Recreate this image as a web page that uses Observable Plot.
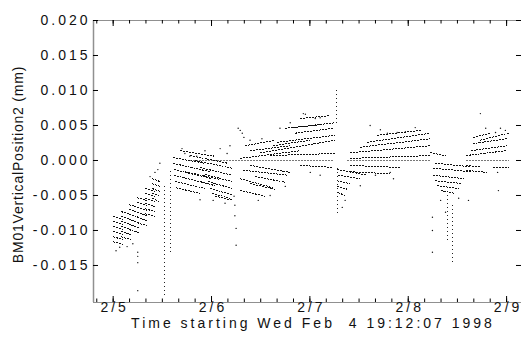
<!DOCTYPE html>
<html><head><meta charset="utf-8">
<script src="https://cdn.jsdelivr.net/npm/d3@7"></script>
<script src="https://cdn.jsdelivr.net/npm/@observablehq/plot@0.6"></script>
<style>body{margin:0;background:#fff} svg{display:block}</style>
</head><body><div id="chart"></div>
<script>
// ---- axis / labels ----
const startTime = Date.UTC(1998, 1, 4, 19, 12, 7);
const endTime = Date.UTC(1998, 1, 9, 3, 38, 0);
const origin = Date.UTC(1998, 1, 5);            // hours below are counted from 2/5 00:00
const yDomain = [-0.02029, 0.020];
const yTickValues = [-0.015, -0.010, -0.005, 0.000, 0.005, 0.010, 0.015, 0.020];
const yTickLabels = ["-0.015", "-0.010", "-0.005", "0.000", "0.005", "0.010", "0.015", "0.020"];
const dayTickDates = ["1998-02-05", "1998-02-06", "1998-02-07", "1998-02-08", "1998-02-09"];
const dayTickLabels = ["2/5", "2/6", "2/7", "2/8", "2/9"];
const yLabel = "BM01VerticalPosition2 (mm)";
const xTitle = "Time starting Wed Feb  4 19:12:07 1998";

// ---- data: runs of samples [hour, µm, hour, µm] ----
const runsFeb5 = [
  [0.0,-8.0,2.4,-8.4],[0.0,-8.7,2.4,-9.1],[0.0,-9.4,2.4,-9.9],[0.0,-10.1,2.4,-10.6],[0.0,-10.9,2.4,-11.3],[0.0,-11.6,2.4,-12.0],
  [1.9,-7.3,4.3,-7.7],[1.9,-8.0,4.3,-8.4],[1.9,-8.7,4.3,-9.1],[1.9,-9.4,4.3,-9.9],[1.9,-10.1,4.3,-10.6],[1.9,-10.9,4.3,-11.3],
  [3.8,-6.3,6.3,-6.7],[3.8,-7.0,6.3,-7.4],[3.8,-7.7,6.3,-8.1],[3.8,-8.4,6.3,-8.9],[3.8,-9.1,6.3,-9.6],[3.8,-9.9,6.3,-10.3],
  [5.8,-5.3,8.2,-5.7],[5.8,-6.0,8.2,-6.4],[5.8,-6.7,8.2,-7.1],[5.8,-7.4,8.2,-7.9],[5.8,-8.1,8.2,-8.6],[5.8,-8.9,8.2,-9.3],
  [7.8,-4.0,10.2,-4.4],[7.8,-4.7,10.2,-5.1],[7.8,-5.4,10.2,-5.9],[7.8,-6.1,10.2,-6.6],[7.8,-6.9,10.2,-7.3],[7.8,-7.6,10.2,-8.0],
  [9.5,-2.6,11.4,-3.0],[9.5,-3.3,11.4,-3.7],[9.5,-4.0,11.4,-4.4],[9.5,-4.7,11.4,-5.1],[9.5,-5.4,11.4,-5.9]
];
const runsFeb5Late = [
  [14.6,0.4,22.4,-0.4],[14.6,-0.4,23.6,-1.6],[14.8,-1.3,24.1,-2.6],[14.8,-2.1,23.1,-3.3],[15.1,-3.0,22.4,-4.0],
  [15.3,-3.9,21.2,-4.7],[18.7,0.7,28.0,-0.4],[20.0,0.0,29.0,-1.1],[21.2,-1.0,29.0,-2.1],[22.4,-2.0,29.0,-3.0],
  [23.1,-3.0,29.0,-4.0],[23.6,-4.0,29.0,-4.9],[24.1,-4.7,28.5,-5.4],[16.3,1.4,24.9,0.6],[17.5,-1.6,26.1,-2.7],
  [16.8,-2.4,24.9,-3.6],[24.9,-5.1,29.3,-5.7]
];
const runsFeb6 = [
  [35.9,1.1,54.2,2.9],[40.0,2.6,54.2,3.6],[44.4,3.9,53.7,4.6],[43.9,4.7,54.2,5.4],[31.0,0.3,45.6,1.4],
  [39.0,2.1,48.1,2.9],[33.4,1.4,43.2,2.1],[38.3,0.7,54.2,1.0],[45.6,6.0,53.0,6.4],[31.7,-1.4,42.5,-2.1],
  [33.4,-0.7,43.2,-1.7],[34.6,-2.3,42.0,-3.1],[31.0,-2.6,39.0,-3.9],[33.4,-3.3,39.5,-4.1],[31.0,-4.3,37.1,-5.1],
  [32.2,2.1,39.5,2.9],[45.6,-0.7,53.7,-1.0],[42.0,4.6,50.5,5.1]
];
const runsFeb7 = [
  [54.7,-1.3,62.0,-2.1],[54.9,-2.1,60.3,-2.6],[54.7,-2.9,57.8,-3.3],[54.7,-3.7,57.1,-4.1],[54.9,-4.6,56.6,-5.0],
  [57.8,0.3,77.4,0.7],[57.8,1.1,77.4,2.1],[60.3,1.9,77.4,3.1],[62.0,2.6,77.4,3.9],[64.4,3.6,75.0,4.3],
  [57.8,-0.7,70.1,-1.0],[57.8,-1.6,67.6,-1.9]
];
const runsFeb8 = [
  [77.4,1.1,81.1,0.7],[78.6,-0.4,87.2,-0.9],[78.1,-1.1,87.2,-1.6],[78.1,-2.1,85.5,-2.6],[78.6,-2.9,85.2,-3.3],
  [79.1,-3.6,84.3,-4.0],[79.9,-4.3,83.5,-4.7],
  [86.0,0.7,96.0,1.4],[87.2,1.4,96.0,2.1],[87.7,2.4,96.0,3.1],[87.9,3.3,92.1,3.9],[86.0,-0.7,89.6,-0.9],
  [86.0,-1.4,91.3,-1.7],[92.8,-1.0,96.5,-1.0],[89.6,2.9,96.5,3.9]
];
const zeroRuns = [[18.7,0,54.0,0],[57.0,0,77.5,0],[86.0,0,96.5,0]];
const spikeRuns = [
  [12.6,-3.6,12.6,-19.6],[14.1,-1.5,14.1,-13.5],[54.4,10.0,54.4,5.4],[54.7,-1.1,54.7,-7.6],
  [81.6,-5.0,81.6,-11.4],[82.8,-6.4,82.8,-14.6]
];
// ---- data: isolated samples [hour, µm] ----
const loosePoints = [
  [0.7,-12.9],[1.6,-12.4],[3.4,-12.3],[4.8,-11.9],[9.0,-2.3],[10.2,-1.7],[10.9,-1.3],[11.4,-0.4],
  [6.0,-13.1],[6.0,-13.7],[6.0,-14.6],[6.0,-18.6],
  [17.5,1.0],[18.7,0.6],[20.4,0.6],[28.5,2.1],[27.8,1.0],[16.8,1.7],[22.4,1.4],[26.1,1.7],[24.4,-5.7],[21.2,-5.6],[27.3,-6.1],
  [29.7,-6.4],[29.7,-7.9],[30.0,-9.7],[30.0,-12.1],[29.5,-5.1],[31.0,4.3],[31.5,3.9],[30.5,4.6],[31.9,3.3],
  [46.4,6.7],[46.9,6.6],[43.2,5.4],[49.3,6.0],[50.5,6.1],[40.7,4.6],[36.3,3.1],[33.4,2.9],[48.1,-1.7],[50.5,-2.1],
  [38.3,-5.0],[42.0,-3.7],[35.4,-5.7],
  [65.2,4.4],[66.9,3.9],[69.3,4.0],[71.3,4.1],[67.6,-1.7],[68.4,-2.6],[64.0,-2.1],[60.3,-3.6],[56.6,-5.7],[55.9,-6.7],
  [62.7,5.0],[73.7,4.7],
  [77.9,-8.1],[77.9,-10.0],[77.9,-13.1],[79.9,-5.7],[84.3,-5.4],[81.1,-7.4],
  [89.6,6.7],[93.3,4.0],[86.7,-5.7],[93.8,-1.7],[94.0,-4.3],[94.5,4.6],[95.7,4.3],[90.9,4.6]
];

// ---- build tables ----
const toDate = h => new Date(origin + h * 3600e3);
const asRun = r => ({t1: toDate(r[0]), v1: r[1] / 1000, t2: toDate(r[2]), v2: r[3] / 1000});
const runs = [...runsFeb5, ...runsFeb5Late, ...runsFeb6, ...runsFeb7, ...runsFeb8].map(asRun);
const zeros = zeroRuns.map(asRun);
const spikes = spikeRuns.map(asRun);
const points = loosePoints.map(p => ({t: toDate(p[0]), v: p[1] / 1000}));
const yTicks = yTickValues.map((v, i) => ({v, label: yTickLabels[i]}));
const dayTicks = dayTickDates.map((d, i) => ({t: new Date(d + "T00:00Z"), label: dayTickLabels[i]}));
const minorTicks = d3.utcHour.every(4).range(new Date(startTime), new Date(endTime));

const W = 521, H = 337, mL = 93, mR = 0, mT = 20, mB = 35;
const plotW = W - mL - mR, plotH = H - mT - mB;
const axisGray = "#909090";
const font = "Liberation Sans, Arial, Helvetica, sans-serif";

const linkOpts = {x1: "t1", y1: "v1", x2: "t2", y2: "v2"};

const chart = Plot.plot({
  width: W, height: H,
  marginLeft: mL, marginRight: mR, marginTop: mT, marginBottom: mB,
  x: {type: "utc", domain: [new Date(startTime), new Date(endTime)], axis: null},
  y: {domain: yDomain, axis: null},
  marks: [
    // data
    Plot.link(zeros, {...linkOpts, stroke: "#777", strokeWidth: 1, strokeDasharray: "2,1", shapeRendering: "crispEdges"}),
    Plot.link(runs, {...linkOpts, stroke: "#111", strokeWidth: 1, strokeDasharray: "2,1", shapeRendering: "crispEdges"}),
    Plot.link(spikes, {...linkOpts, stroke: "#222", strokeWidth: 1, strokeDasharray: "1,3", shapeRendering: "crispEdges"}),
    Plot.dot(points, {x: "t", y: "v", r: 0.7, fill: "#111", stroke: null}),
    // frame
    Plot.ruleX([new Date(startTime)], {x: d => d, stroke: axisGray, strokeWidth: 1.5}),
    Plot.ruleY([yDomain[1]], {y: d => d, stroke: axisGray, strokeWidth: 1.2}),
    Plot.ruleY([yDomain[0]], {y: d => d, stroke: axisGray, strokeWidth: 1.2}),
    // ticks
    Plot.ruleX(minorTicks, {x: d => d, insetTop: plotH - 3.5, stroke: "#000"}),
    Plot.ruleX(dayTicks, {x: "t", insetTop: plotH - 6, stroke: "#000"}),
    Plot.ruleX(minorTicks, {x: d => d, insetBottom: plotH - 3.5, stroke: "#000"}),
    Plot.ruleX(dayTicks, {x: "t", insetBottom: plotH - 6, stroke: "#000"}),
    Plot.ruleY(yTicks, {y: "v", insetRight: plotW - 5, stroke: "#000"}),
    Plot.ruleY(yTicks, {y: "v", insetLeft: plotW - 5, stroke: "#000"}),
    // labels
    Plot.text(dayTicks, {x: "t", text: "label", frameAnchor: "bottom", dy: 9, dx: 1.5, fontSize: 14, fontFamily: font, fill: "#111"}),
    Plot.text(yTicks, {y: "v", text: "label", frameAnchor: "left", textAnchor: "end", dx: -3, fontSize: 14, fontFamily: font, fill: "#111"}),
    Plot.text([xTitle], {text: d => d, frameAnchor: "bottom", textAnchor: "middle", dy: 25, dx: 5.5, fontSize: 14, fontFamily: font, fill: "#111"}),
    Plot.text([yLabel], {text: d => d, frameAnchor: "left", textAnchor: "middle", rotate: -90, dx: -75, dy: 3, fontSize: 14, fontFamily: font, fill: "#111"})
  ]
});

const svg = d3.select(chart);
svg.selectAll("text").each(function () {
  const t = d3.select(this);
  if (t.text() === yLabel) t.style("letter-spacing", "0.8px");
  else t.style("letter-spacing", "3px").style("white-space", "pre");
});
document.getElementById("chart").appendChild(chart);
</script>
</body></html>
